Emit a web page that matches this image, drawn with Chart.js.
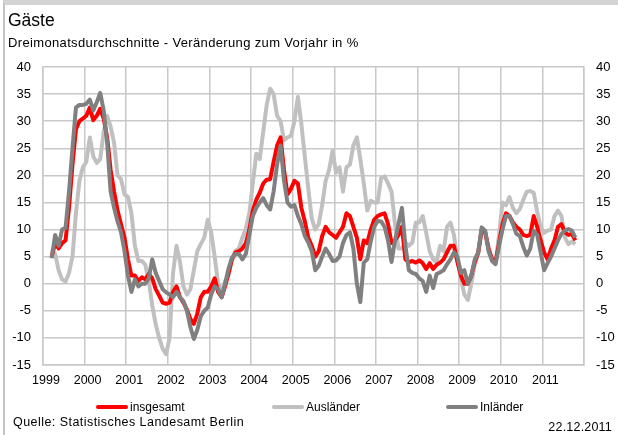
<!DOCTYPE html>
<html>
<head>
<meta charset="utf-8">
<script src="https://cdn.jsdelivr.net/npm/chart.js@4"></script>
<style>
  body { margin: 0; background: #fff; font-family: "Liberation Sans", Arial, sans-serif; }
  #wrap { position: relative; width: 618px; height: 435px; overflow: hidden; }
  #frame { position: absolute; left: 3px; top: 0; width: 615px; height: 435px; box-sizing: border-box;
           border-top: 5px solid #d4d4d4; border-left: 2px solid #c4c4c4; }
  canvas { position: absolute; left: 0; top: 0; }
  .txt { position: absolute; color: #000; white-space: nowrap; }
  #title { left: 8px; top: 10px; font-size: 17.5px; }
  #subtitle { left: 8px; top: 35px; font-size: 13px; letter-spacing: 0.35px; }
  #source { left: 13px; top: 415px; font-size: 12.5px; letter-spacing: 0.45px; }
  #date { right: 6px; top: 420px; font-size: 12.5px; letter-spacing: 0.2px; }
  .leg { position: absolute; top: 400px; font-size: 12px; display: flex; align-items: center; }
  .leg span.swatch { display: inline-block; width: 32px; height: 4px; margin-right: 2px; border-radius: 2px; }
</style>
</head>
<body>
<div id="wrap">
  <div id="frame"></div>
  <canvas id="chart" width="618" height="435"></canvas>
  <div class="txt" id="title">Gäste</div>
  <div class="txt" id="subtitle">Dreimonatsdurchschnitte - Veränderung zum Vorjahr in %</div>
  <div id="legend"></div>
  <div class="txt" id="source">Quelle: Statistisches Landesamt Berlin</div>
  <div class="txt" id="date">22.12.2011</div>
</div>
<script>
// monthly values, first value = March 1999 (month index 2 from Jan 1999)
const firstMonth = 2;
const years = ["1999","2000","2001","2002","2003","2004","2005","2006","2007","2008","2009","2010","2011"];

const insgesamt = [
  5, 7.5, 6.5, 7.5, 8, 14, 22, 28.5, 30, 30.5,
  31, 32.5, 30.2, 31, 32.3, 30.5, 27, 21, 17, 13.5, 11, 8.5,
  4.5, 1.5, 1.5, 0.5, 1.2, 0.8, 1.8, 1, -1, -2.2, -3.5, -3.7,
  -3.5, -1.5, -0.5, -2.5, -3.5, -4.8, -6.5, -7.4, -5.5, -2.5, -1.5, -1.5,
  -0.5, 1, -1.5, -2.5, -0.5, 2, 4.5, 5.8, 6, 6.5, 7.5, 10,
  13.5, 15.5, 16.8, 18.5, 19.2, 19.3, 22.5, 25.5, 27, 21, 16.5, 17.5,
  19, 18.5, 14, 11.5, 8.5, 7, 5, 6, 8.8, 10.5, 9.5, 9,
  8.5, 9.5, 10.5, 13, 12.5, 10.5, 8.5, 4.5, 8, 7.5, 10, 11.8,
  12.5, 12.8, 13, 11, 7.5, 8, 9, 10.5, 4.5, 4, 4.2, 3.9,
  4.3, 3.8, 2.7, 3.8, 2.7, 3.5, 3.9, 4.5, 5.8, 7, 7, 4,
  1.5, 0, 0, 1.5, 4, 5.8, 10, 9.5, 6.5, 4.5, 4, 7.5,
  11, 13, 12.5, 11.3, 10.5, 10, 9, 8.8, 9, 12.5, 10.5, 8,
  5.8, 4.5, 6.5, 8, 10.5, 11, 9.5, 9, 9.2, 8
];

const auslaender = [
  6.4, 5.5, 2.5, 0.8, 0.4, 2, 5, 13, 19, 21.5,
  22.5, 27, 23.5, 22.3, 23, 28, 31, 29, 26, 20, 19.3, 16.5,
  16, 13, 7, 4.2, 4.2, 3.5, 0.5, -4, -7.5, -10, -12, -13,
  -10, 2, 7, 4, -0.5, -2, -1, 2.5, 6, 7.3, 8.5, 11.8,
  9.5, 5, 0, -1.5, 0.5, 1.5, 4.5, 6.1, 6.5, 8.5, 10.2, 13,
  18.5, 24, 23, 28, 33, 36, 35, 31, 30, 26.5, 27, 27.3,
  30, 34.5, 29.5, 23.5, 17.5, 12, 10, 11, 14.5, 19, 21, 24.5,
  20.5, 21.5, 17, 21.5, 22, 25.5, 27, 23, 18.5, 13.5, 15.3, 15,
  15, 19.5, 19.8, 18.5, 17, 11, 6.5, 6.5, 7.6, 7, 7.6, 11.3,
  11.3, 12.5, 9.4, 6, 4.5, 4, 7, 6, 10.5, 11.3, 9, 4.5,
  1, -2, -3, 0, 3.5, 5.5, 9.5, 9.5, 6, 4.5, 4, 9,
  15, 14.5, 16, 14, 13, 13.8, 15.5, 17, 17.1, 16.8, 13.3, 10.5,
  9.4, 9.8, 10, 12.5, 13.5, 12.5, 8.5, 7.3, 7.8, 7.3
];

const inlaender = [
  4.7, 9, 7, 10, 10.3, 17, 25, 32.5, 33, 33,
  33.2, 34, 32, 33.5, 35.2, 32, 26, 17, 14, 11.5, 9.5, 6,
  1.5, -1.5, 0.8, -0.5, 0, 0, 1, 4.5, 2, 0.5, -1, -1.6,
  -2, -2.5, -1.5, -2.5, -3.2, -5, -8, -10.2, -8.5, -6, -5, -4.4,
  -2, -0.5, -1, -2.5, 0, 2.8, 4.8, 5.5, 5.5, 4.5, 5.5, 9,
  12.5, 14, 15, 15.8, 14.5, 13.7, 17, 22, 25.5, 19, 15, 14.2,
  14.5, 12.5, 11, 8.8, 7.6, 6, 2.5, 3.3, 5, 6.5, 5.5, 4.2,
  4.3, 5, 7.5, 9, 9.5, 6.5, 0, -3.4, 3.9, 4.5, 7.8, 10.5,
  11.6, 11.5, 10.5, 8, 4, 8, 11, 14, 7, 2.5, 2, 1.8,
  1, 0.5, -1.5, 1.5, -0.8, 1.8, 2.1, 2.5, 3.6, 4.5, 5.8, 5,
  2, 2.5, 0, 1.5, 4.5, 5.8, 10.4, 9.8, 6, 4.2, 3.6, 7,
  10, 12.5, 12.5, 11, 9.2, 8.8, 6.8, 5.2, 6.5, 9.8, 9, 5.8,
  2.5, 3.8, 5, 6.5, 8, 9.2, 9.8, 10.1, 9.8, 8.5
];

const yTicks = [-15, -10, -5, 0, 5, 10, 15, 20, 25, 30, 35, 40];

// place each monthly value in the middle of its month on a month-index axis
function toPoints(values) {
  return values.map((v, i) => ({ x: firstMonth + i + 0.5, y: v }));
}

const gridColor = "#c8c8c8";
const xFont = { family: "'Liberation Sans', Arial, sans-serif", size: 12.5 };
const yFont = { family: "'Liberation Sans', Arial, sans-serif", size: 13 };

const chart = new Chart(document.getElementById("chart"), {
  type: "line",
  data: {
    datasets: [
      { label: "insgesamt", data: toPoints(insgesamt), borderColor: "#ff0000", order: 1 },
      { label: "Ausländer", data: toPoints(auslaender), borderColor: "#c0c0c0", order: 2 },
      { label: "Inländer", data: toPoints(inlaender), borderColor: "#808080", order: 0 }
    ].map(d => Object.assign(d, { borderWidth: 4, pointRadius: 0, tension: 0, borderJoinStyle: "round", fill: false }))
  },
  options: {
    responsive: false,
    animation: false,
    devicePixelRatio: 1,
    layout: { padding: { top: 67, bottom: 42, left: 0, right: 0 } },
    plugins: { legend: { display: false }, tooltip: { enabled: false } },
    scales: {
      x: {
        type: "linear",
        min: 0,
        max: years.length * 12,
        afterBuildTicks: axis => { axis.ticks = years.map((y, i) => ({ value: i * 12 })).concat([{ value: years.length * 12 }]); },
        ticks: {
          autoSkip: false, maxRotation: 0, color: "#000", font: xFont, padding: 8, labelOffset: 3,
          callback: v => years[v / 12] || ""
        },
        grid: { color: gridColor, lineWidth: 1.5, drawTicks: false },
        border: { color: gridColor, width: 1.5 },
        afterFit: s => { s.height = 28; }
      },
      y: {
        position: "left",
        min: yTicks[0],
        max: yTicks[yTicks.length - 1],
        afterBuildTicks: axis => { axis.ticks = yTicks.map(v => ({ value: v })); },
        ticks: { color: "#000", font: yFont, padding: 12 },
        grid: { color: gridColor, lineWidth: 1.5, drawTicks: false },
        border: { color: gridColor, width: 1.5 },
        afterFit: s => { s.width = 43; }
      },
      y1: {
        position: "right",
        min: yTicks[0],
        max: yTicks[yTicks.length - 1],
        afterBuildTicks: axis => { axis.ticks = yTicks.map(v => ({ value: v })); },
        ticks: { color: "#000", font: yFont, padding: 12 },
        grid: { display: false, drawTicks: false },
        border: { color: gridColor, width: 1.5 },
        afterFit: s => { s.width = 34; }
      }
    }
  }
});

// legend built from the datasets
const legendLeft = [96, 272, 446];
const legendBox = document.getElementById("legend");
chart.data.datasets.forEach((ds, i) => {
  const item = document.createElement("div");
  item.className = "leg";
  item.style.left = legendLeft[i] + "px";
  item.innerHTML = '<span class="swatch" style="background:' + ds.borderColor + '"></span>' + ds.label;
  legendBox.appendChild(item);
});
</script>
</body>
</html>
